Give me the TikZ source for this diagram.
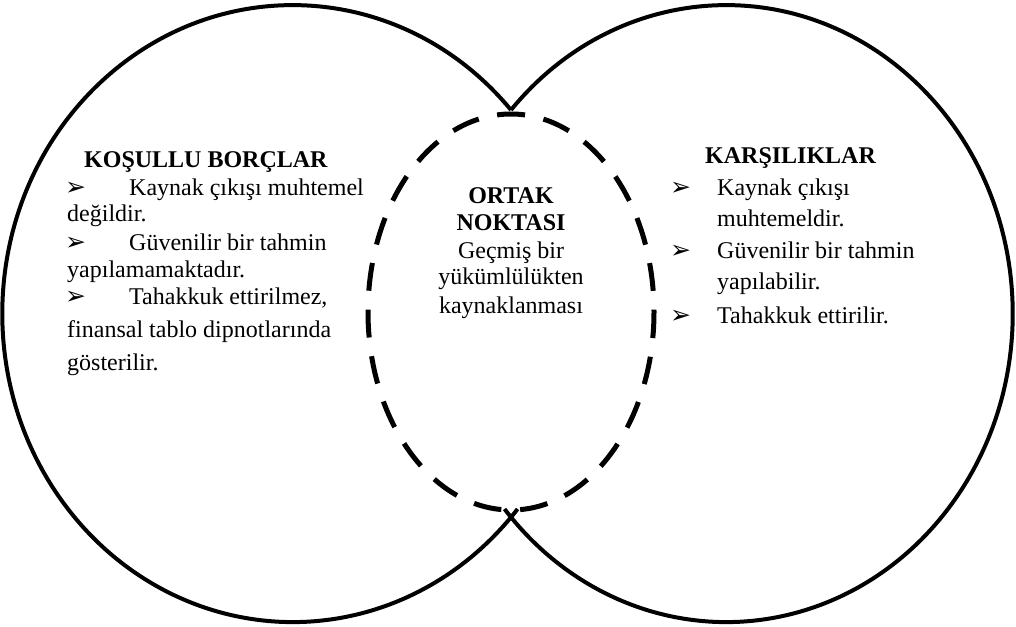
\documentclass[tikz,border=0pt]{standalone}
\usepackage{fontspec}
\setmainfont{Liberation Serif}
\newfontfamily\symfont{DejaVu Sans}
\begin{document}
\begin{tikzpicture}[x=1pt,y=-1pt,
  outer/.style={line width=4pt},
  dsh/.style={line width=5pt, dash pattern=on 28pt off 18.87pt, dash phase=25.7pt},
  txt/.style={font=\fontsize{24}{28}\selectfont, inner sep=0pt, anchor=base west},
  ttl/.style={font=\fontsize{24}{28}\selectfont\bfseries, inner sep=0pt, anchor=base west},
  ctr/.style={font=\fontsize{24}{28}\selectfont, inner sep=0pt, anchor=base},
  ctrb/.style={font=\fontsize{24}{28}\selectfont\bfseries, inner sep=0pt, anchor=base},
  blt/.style={font=\symfont\fontsize{25}{28}\selectfont, inner sep=0pt, anchor=base west}]
\useasboundingbox (0,0) rectangle (1016,626);
% outer shapes
\coordinate (top) at (511,110);
\draw[outer] (top) arc[start angle=41.3, end angle=320.7, x radius=290.5pt, y radius=308.5pt];
\draw[outer] (top) arc[start angle=138.7, end angle=-140.7, x radius=286.5pt, y radius=308.5pt];
% dashed ellipse
\coordinate (mid) at (511,312);
\draw[dsh] (mid) ellipse [x radius=143pt, y radius=198pt];
% left block
\node[ttl] (l0) at (84,167) {KOŞULLU BORÇLAR};
\node[blt] (lb1) at (65,195) {➢};
\node[txt] (l1) at (129,195) {Kaynak çıkışı muhtemel};
\node[txt] (l2) at (67,221) {değildir.};
\node[blt] (lb2) at (65,250) {➢};
\node[txt] (l3) at (129,250) {Güvenilir bir tahmin};
\node[txt] (l4) at (67,277) {yapılamamaktadır.};
\node[blt] (lb3) at (65,304) {➢};
\node[txt] (l5) at (129,304) {Tahakkuk ettirilmez,};
\node[txt] (l6) at (67,337) {finansal tablo dipnotlarında};
\node[txt] (l7) at (67,370) {gösterilir.};
% center block
\node[ctrb] (c1) at (511,203) {ORTAK};
\node[ctrb] (c2) at (511,230) {NOKTASI};
\node[ctr] (c3) at (511,258) {Geçmiş bir};
\node[ctr] (c4) at (511,284) {yükümlülükten};
\node[ctr] (c5) at (511,313) {kaynaklanması};
% right block
\node[ttl] (r0) at (705,163) {KARŞILIKLAR};
\node[blt] (rb1) at (670,195) {➢};
\node[txt] (r1) at (717,195) {Kaynak çıkışı};
\node[txt] (r2) at (717,226) {muhtemeldir.};
\node[blt] (rb2) at (670,258) {➢};
\node[txt] (r3) at (717,258) {Güvenilir bir tahmin};
\node[txt] (r4) at (717,289) {yapılabilir.};
\node[blt] (rb3) at (670,323) {➢};
\node[txt] (r5) at (717,323) {Tahakkuk ettirilir.};
\end{tikzpicture}
\end{document}
